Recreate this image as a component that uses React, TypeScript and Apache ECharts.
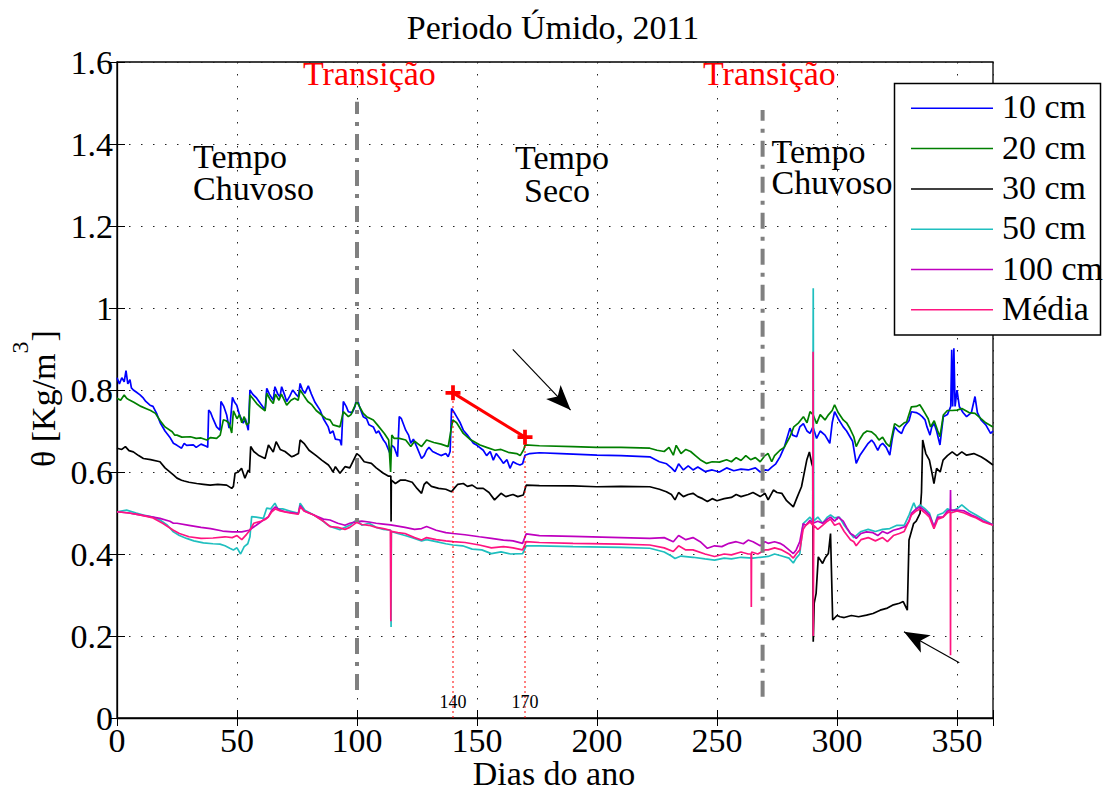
import React, { useEffect, useRef } from "react";
import * as echarts from "echarts";

const FONT = "Liberation Serif, Times New Roman, serif";

const legendNames = ["10 cm", "20 cm", "30 cm", "50 cm", "100 cm", "Média"];
const seriesColors = ["#0000ff", "#007f00", "#000000", "#1fbfbf", "#bf00bf", "#ff1480"];
const xTicks = [0, 50, 100, 150, 200, 250, 300, 350];
const yTicks = [0, 0.2, 0.4, 0.6, 0.8, 1, 1.2, 1.4, 1.6];
const yTickLabels = ["0", "0.2", "0.4", "0.6", "0.8", "1", "1.2", "1.4", "1.6"];

const s10: number[][] = [
  [0,0.83],[1,0.815],[2,0.83],[3,0.82],[3.75,0.847],[4.5,0.815],[5.4,0.825],[6,0.805],[6.8,0.8],[8,0.795],[9.6,0.788],[11,0.78],[12,0.772],[13.75,0.763],[15,0.76],[16.5,0.743],[18,0.72],[20,0.7],[22,0.685],[23.5,0.67],[25,0.665],[26.9,0.658],[28,0.67],[29,0.665],[31.8,0.666],[33,0.66],[35,0.668],[37.4,0.662],[37.8,0.66],[38.2,0.751],[39,0.745],[40,0.73],[41.5,0.71],[42.9,0.702],[43.3,0.772],[44.5,0.76],[45.7,0.739],[46.7,0.707],[47.2,0.72],[48.1,0.782],[49,0.77],[49.9,0.763],[51,0.74],[52.6,0.719],[53.5,0.73],[54.7,0.702],[55.4,0.8],[56.5,0.79],[58.2,0.78],[60,0.765],[61.7,0.751],[62.4,0.804],[63.5,0.79],[65.1,0.775],[65.8,0.808],[67,0.79],[67.9,0.783],[68.6,0.808],[70,0.785],[70.7,0.772],[72,0.785],[73.2,0.8],[74.5,0.79],[75.6,0.783],[76.3,0.816],[77.3,0.8],[78.3,0.792],[79.7,0.81],[81,0.79],[82.5,0.77],[84.6,0.751],[86,0.73],[88,0.71],[88.8,0.694],[90,0.7],[91,0.68],[92.9,0.678],[93.5,0.665],
  [94.3,0.772],[95.5,0.76],[96.4,0.747],[98,0.745],[99.2,0.76],[99.9,0.784],[101,0.76],[102.6,0.735],[104,0.73],[105,0.715],[106.8,0.71],[108,0.695],[109,0.7],[111,0.678],[112,0.67],[113.75,0.645],[114.5,0.665],[115.5,0.66],[116.9,0.637],[117.6,0.735],[118.5,0.73],[120.3,0.702],[121.5,0.69],[122.4,0.67],[123.5,0.68],[125,0.66],[126.9,0.633],[128,0.64],[129,0.653],[130,0.66],[131.5,0.65],[133.2,0.645],[135,0.64],[137,0.645],[138,0.637],[138.8,0.65],[139.4,0.755],[140.5,0.745],[141.5,0.735],[143,0.72],[144.3,0.702],[146,0.69],[148.5,0.67],[150,0.665],[152.6,0.653],[154,0.64],[155.5,0.65],[156.8,0.629],[158,0.645],[160,0.63],[161,0.621],[162.5,0.63],[163.75,0.609],[165,0.625],[166.5,0.62],[167.9,0.617],[169,0.62],[170,0.641],[172,0.645],[176,0.647],
  [185,0.645],[200,0.641],[210,0.64],[222,0.637],[226,0.625],[229,0.62],[231,0.61],[232.5,0.601],[234,0.62],[236,0.605],[238,0.615],[240,0.605],[242,0.612],[245,0.601],[248,0.605],[251,0.6],[254,0.61],[257,0.603],[260,0.607],[263,0.605],[266,0.61],[268,0.6],[270,0.605],[271.3,0.604],[272.8,0.612],[274.5,0.62],[276.25,0.637],[278,0.66],[280.4,0.707],[281.5,0.69],[283.2,0.686],[284.5,0.71],[286,0.718],[287.5,0.7],[288.75,0.694],[290,0.71],[291.5,0.682],[293,0.7],[295,0.69],[297,0.67],[298,0.72],[299,0.747],[300.5,0.73],[302.6,0.71],[304,0.7],[305.4,0.686],[306.5,0.675],[308,0.621],[309.5,0.64],[311,0.653],[313,0.67],[314.4,0.678],[315.5,0.67],[317,0.653],[318,0.665],[319,0.67],[320.5,0.66],[322,0.641],[323,0.68],[324,0.71],[325.5,0.7],[326.9,0.694],[328,0.71],[329,0.718],[330,0.725],[331,0.747],[333,0.745],[334.5,0.74],[335.5,0.735],[336.7,0.727],[337.5,0.71],[338.75,0.69],[339.5,0.71],[340.5,0.718],[341.5,0.7],[342.9,0.666],[344.3,0.735],[346,0.74],[347.4,0.76],[347.8,0.898],[348.2,0.76],[348.7,0.902],[349.2,0.76],[350,0.8],[351,0.759],[352.5,0.745],[354,0.735],[356,0.745],[357.5,0.784],[358.5,0.745],[360,0.727],[362,0.715],[364,0.694],[365,0.7]
];

const s20: number[][] = [
  [0,0.78],[1.5,0.775],[3,0.788],[4,0.78],[5,0.776],[7,0.77],[10,0.76],[12,0.755],[14,0.75],[16,0.743],[18,0.725],[20,0.71],[23,0.698],[24,0.69],[25,0.69],[27,0.685],[30.6,0.686],[33,0.682],[35,0.683],[37.4,0.678],[39,0.684],[41.5,0.682],[43,0.69],[44.3,0.727],[45.5,0.725],[46.7,0.719],[47.8,0.695],[48.5,0.749],[50,0.73],[51,0.74],[52,0.72],[53,0.735],[54,0.715],[55,0.72],[55.4,0.788],[56.5,0.78],[58.2,0.767],[60,0.757],[61.7,0.749],[62.4,0.792],[64,0.775],[65.1,0.767],[66,0.79],[67.5,0.775],[68.5,0.79],[70.7,0.763],[72.5,0.775],[74,0.78],[75.5,0.775],[76.3,0.8],[78,0.785],[79.5,0.772],[81,0.765],[83,0.75],[85.3,0.739],[87,0.73],[88.75,0.727],[90,0.715],[92.9,0.71],[94.3,0.747],[96.4,0.735],[97.5,0.74],[99.9,0.772],[101,0.76],[102.6,0.743],[104,0.735],[106.8,0.727],[108.5,0.715],[111.4,0.694],[113.2,0.678],[114,0.6],[114.5,0.69],[115.5,0.682],[117.6,0.682],[120.3,0.678],[122.4,0.662],[124,0.675],[126.9,0.662],[129,0.678],[132,0.672],[135,0.668],[138,0.662],[139.9,0.727],[141.5,0.72],[144.3,0.694],[147,0.68],[151.25,0.666],[154,0.66],[157.5,0.653],[160,0.655],[163,0.648],[166.5,0.645],[168,0.64],[169.5,0.655],[170,0.666],
  [176,0.664],[190,0.662],[199.9,0.66],[210,0.66],[222,0.658],[225,0.653],[228,0.65],[230,0.66],[231.8,0.641],[233,0.665],[235,0.645],[237,0.655],[239,0.65],[241,0.64],[243,0.63],[245.7,0.621],[248,0.625],[251,0.624],[254,0.63],[256,0.625],[258,0.635],[260,0.628],[262,0.64],[264,0.63],[266,0.635],[268,0.625],[270,0.64],[271.3,0.645],[272.8,0.625],[274,0.64],[276.25,0.653],[278,0.66],[280.4,0.686],[282,0.71],[284,0.72],[286,0.735],[287.5,0.72],[288.75,0.747],[290,0.74],[291.5,0.718],[293,0.74],[295,0.727],[296.5,0.74],[298,0.75],[299,0.764],[300.5,0.745],[302.6,0.727],[304,0.72],[305.4,0.706],[307,0.686],[308,0.662],[309.5,0.68],[311,0.694],[312.5,0.7],[314.4,0.698],[316,0.69],[317.5,0.678],[319,0.685],[320.5,0.67],[322,0.662],[323,0.69],[324,0.718],[326,0.71],[328,0.72],[329,0.722],[331,0.759],[333,0.76],[334.5,0.764],[335.5,0.755],[336.7,0.743],[338,0.73],[339,0.71],[340.5,0.725],[342,0.7],[342.9,0.686],[344.3,0.739],[346,0.75],[348,0.75],[350,0.751],[352,0.755],[355,0.745],[357.5,0.743],[360,0.73],[362,0.72],[365,0.71]
];

const s30: number[][] = [
  [0,0.658],[2,0.655],[3.5,0.662],[5,0.652],[6.8,0.649],[9,0.64],[11,0.633],[14,0.63],[17.9,0.625],[20,0.61],[23.5,0.593],[25,0.585],[26.9,0.58],[28,0.578],[30,0.575],[33.2,0.572],[36,0.57],[38.8,0.568],[42,0.57],[45.7,0.568],[47.8,0.56],[48.5,0.565],[49.2,0.597],[50.5,0.6],[51.9,0.609],[53.3,0.585],[54.7,0.605],[55.2,0.6],[55.7,0.662],[57,0.65],[58.9,0.641],[61.7,0.633],[63.1,0.666],[65.1,0.649],[66.3,0.674],[68,0.655],[70,0.65],[72.8,0.637],[74,0.64],[75.6,0.645],[76.3,0.678],[77.9,0.67],[80,0.653],[83,0.64],[85.3,0.629],[88.1,0.617],[89,0.61],[90,0.6],[91,0.613],[92.9,0.597],[95,0.613],[97,0.61],[99.9,0.645],[101,0.64],[103,0.625],[106,0.621],[108,0.61],[111,0.597],[113,0.59],[114.1,0.59],[114.2,0.479],[114.3,0.58],[116,0.572],[118,0.58],[120.3,0.58],[123,0.575],[125,0.56],[126.9,0.548],[128,0.57],[129,0.576],[131,0.565],[134,0.56],[137,0.558],[139.4,0.552],[140.5,0.56],[142,0.57],[144.3,0.572],[146,0.565],[148,0.568],[150,0.56],[152.6,0.56],[155,0.55],[157.3,0.532],[160,0.548],[162,0.54],[165,0.545],[167,0.54],[169.3,0.544],[170.5,0.568],
  [176,0.567],[190,0.566],[199.9,0.564],[210,0.565],[222,0.564],[226,0.558],[228.9,0.552],[231,0.545],[232.5,0.532],[234,0.55],[236,0.54],[238,0.545],[240,0.548],[242,0.54],[244,0.535],[246,0.528],[248,0.535],[250,0.53],[253,0.535],[256,0.538],[258,0.545],[260,0.54],[263,0.545],[265,0.55],[268,0.54],[270,0.548],[271.3,0.532],[273.5,0.556],[275,0.55],[277,0.548],[279,0.53],[281.8,0.515],[283.5,0.54],[285.2,0.564],[287.4,0.629],[288.5,0.649],[289.5,0.62],[289.9,0.613],[290.1,0.186],[290.5,0.28],[291.3,0.304],[292.2,0.393],[294,0.377],[295,0.39],[296.4,0.401],[297.3,0.45],[298.2,0.239],[300,0.25],[301.3,0.247],[303,0.245],[306,0.25],[309,0.247],[312.3,0.251],[315,0.255],[318,0.263],[321,0.268],[323.5,0.276],[326,0.28],[327.6,0.284],[329.3,0.263],[330,0.434],[331.9,0.474],[333,0.48],[334.6,0.499],[335.2,0.55],[335.7,0.678],[337,0.645],[338.5,0.629],[339.5,0.6],[340.4,0.572],[341.5,0.609],[343,0.6],[344.2,0.629],[346,0.64],[348,0.649],[350,0.64],[352,0.649],[354,0.641],[357,0.645],[360,0.637],[362,0.63],[365,0.617]
];

const s50: number[][] = [
  [0,0.503],[4,0.507],[8,0.5],[11,0.495],[15,0.49],[17.9,0.483],[21,0.47],[23.5,0.454],[26,0.445],[29,0.438],[32,0.432],[36,0.427],[40,0.425],[42.9,0.424],[45,0.42],[47,0.414],[48.5,0.41],[50,0.415],[51.5,0.4],[53,0.418],[54.5,0.425],[55.4,0.442],[56.1,0.491],[58,0.49],[61,0.487],[62.4,0.512],[64,0.51],[65.8,0.524],[67,0.51],[69,0.51],[72,0.505],[75.6,0.499],[76.3,0.524],[78.3,0.507],[82,0.495],[85.3,0.483],[88,0.47],[90,0.465],[92.9,0.459],[95,0.465],[97,0.47],[99.9,0.484],[102,0.47],[105,0.475],[108,0.465],[111,0.46],[114.1,0.458],[114.2,0.222],[114.3,0.455],[117,0.45],[120,0.445],[123,0.44],[126.9,0.432],[129,0.435],[133,0.43],[137,0.425],[140,0.422],[144,0.42],[148,0.412],[152,0.41],[156,0.401],[160,0.405],[164,0.4],[169,0.401],[170.5,0.42],
  [176,0.42],[190,0.418],[210,0.416],[222,0.414],[228,0.405],[231,0.395],[232.5,0.389],[235,0.395],[240,0.392],[245,0.388],[249,0.385],[253,0.39],[256,0.388],[260,0.392],[265,0.39],[268,0.392],[271.3,0.394],[274,0.4],[277,0.395],[280,0.39],[281.8,0.378],[283,0.39],[284.5,0.4],[285.9,0.474],[287,0.48],[288.75,0.49],[289.9,0.48],[290.1,1.048],[290.3,0.48],[292,0.49],[294,0.475],[296,0.49],[297.3,0.495],[299,0.488],[301,0.49],[303,0.47],[305.6,0.45],[307,0.44],[308,0.445],[310,0.455],[313,0.46],[316,0.455],[319,0.46],[322,0.462],[325,0.47],[328,0.47],[330,0.495],[331,0.51],[332,0.525],[333,0.51],[334.6,0.52],[336.7,0.51],[338.5,0.5],[340.4,0.465],[342,0.495],[344.2,0.5],[346,0.51],[348,0.505],[350,0.51],[352,0.52],[355,0.505],[358,0.495],[361,0.485],[365,0.471]
];

const s100: number[][] = [
  [0,0.503],[5,0.5],[10,0.495],[15,0.49],[17.9,0.487],[22,0.48],[23.5,0.475],[25,0.475],[30,0.47],[35,0.465],[39,0.462],[44,0.456],[48,0.454],[52,0.454],[55,0.458],[58,0.47],[61,0.483],[63,0.49],[64.5,0.507],[66,0.515],[68,0.507],[70,0.503],[74,0.5],[75.5,0.498],[76.3,0.518],[78,0.505],[82,0.495],[86,0.485],[88.75,0.483],[92,0.475],[95,0.47],[97,0.475],[99.9,0.479],[102,0.48],[105,0.478],[108,0.475],[111,0.473],[114,0.471],[117,0.468],[120,0.465],[124,0.46],[126.9,0.462],[129,0.467],[133,0.458],[137,0.452],[140,0.45],[145,0.447],[151,0.442],[156,0.438],[161,0.434],[165,0.432],[169,0.426],[170.5,0.449],
  [176,0.445],[190,0.443],[210,0.44],[222,0.438],[228,0.44],[231.8,0.43],[234,0.445],[237,0.435],[240,0.44],[243,0.43],[246,0.414],[249,0.42],[252,0.418],[255,0.426],[258,0.43],[261,0.425],[263,0.434],[265,0.43],[268,0.42],[270,0.43],[271.3,0.426],[274,0.43],[276.25,0.426],[278,0.42],[280,0.41],[281.8,0.401],[283,0.41],[284.5,0.43],[285.9,0.474],[287,0.47],[288.75,0.482],[290,0.475],[292,0.48],[294,0.475],[296,0.485],[297.3,0.49],[299,0.48],[300.5,0.49],[302.6,0.48],[304,0.465],[305.6,0.45],[307,0.445],[308,0.438],[310,0.45],[312.3,0.454],[315,0.452],[317,0.445],[319,0.455],[321,0.45],[323.5,0.458],[326,0.462],[328.5,0.467],[330,0.48],[331,0.499],[333,0.51],[334.6,0.515],[336.7,0.505],[338.5,0.495],[340.4,0.467],[342,0.49],[344.2,0.49],[346,0.505],[347.2,0.507],[347.3,0.556],[347.4,0.507],[350,0.507],[353,0.505],[356,0.495],[358,0.49],[361,0.48],[365,0.471]
];

const sMedia: number[][] = [
  [0,0.503],[5,0.5],[10,0.495],[15,0.488],[19,0.475],[23.5,0.458],[26,0.45],[30,0.442],[35,0.438],[40,0.439],[45,0.442],[48,0.44],[50,0.445],[52,0.435],[54,0.448],[55.4,0.458],[57,0.475],[60,0.48],[62,0.485],[63,0.49],[64.5,0.503],[66,0.51],[68,0.505],[72,0.5],[75.5,0.497],[76.3,0.515],[78,0.505],[82,0.495],[86,0.48],[88.75,0.467],[92,0.465],[95,0.46],[97,0.465],[99.9,0.477],[102,0.472],[105,0.47],[108,0.465],[111,0.462],[113.9,0.458],[114.1,0.236],[114.3,0.455],[117,0.452],[120,0.45],[124,0.44],[126.9,0.434],[129,0.44],[133,0.435],[137,0.432],[140,0.43],[145,0.428],[151,0.422],[156,0.415],[161,0.418],[165,0.415],[169,0.41],[170.5,0.43],
  [176,0.428],[190,0.426],[210,0.424],[222,0.422],[228,0.415],[231.8,0.406],[234,0.42],[237,0.41],[240,0.41],[245,0.4],[249,0.394],[253,0.4],[256,0.398],[260,0.405],[263,0.4],[264.2,0.4],[264.3,0.271],[264.4,0.405],[267,0.4],[270,0.41],[271.3,0.41],[274,0.415],[277,0.41],[280,0.4],[281.8,0.39],[283,0.4],[284.5,0.41],[285.9,0.46],[287,0.47],[288.75,0.478],[289.9,0.47],[290.05,0.893],[290.1,0.2],[290.3,0.47],[292,0.46],[294,0.47],[296,0.48],[297.3,0.485],[299,0.47],[301,0.475],[303,0.455],[305.6,0.435],[307,0.43],[308,0.42],[310,0.435],[313,0.44],[316,0.432],[319,0.44],[321,0.43],[323.5,0.445],[326,0.45],[328,0.455],[330,0.48],[331,0.495],[333,0.505],[334.6,0.51],[336.7,0.5],[338.5,0.49],[340.4,0.462],[342,0.485],[344.2,0.49],[346,0.5],[347.2,0.505],[347.3,0.153],[347.4,0.5],[350,0.505],[353,0.5],[356,0.492],[358,0.488],[361,0.478],[365,0.47]
];

const allSeries = [s10, s20, s30, s50, s100, sMedia];

// annotation marks (data coordinates)
const transitionLines: number[][][] = [
  [[100, 0.068], [100, 1.503]],
  [[269, 0.052], [269, 1.483]],
];
const dottedLines: number[][][] = [
  [[140, 0], [140, 0.793]],
  [[170, 0], [170, 0.685]],
];
const slopeLine: number[][] = [[140, 0.793], [170, 0.685]];
const arrowLines: number[][][] = [
  [[164.9, 0.899], [189.0, 0.751]],
  [[350.96, 0.135], [327.9, 0.2105]],
];

const PLUS = "path://M3,0 L5,0 L5,3 L8,3 L8,5 L5,5 L5,8 L3,8 L3,5 L0,5 L0,3 L3,3 Z";

function measure(text: string, size: number) {
  const c = document.createElement("canvas").getContext("2d");
  if (!c) return text.length * size * 0.5;
  c.font = `${size}px ${FONT}`;
  return c.measureText(text).width;
}

export default function App() {
  const ref = useRef<HTMLDivElement>(null);
  useEffect(() => {
    document.body.style.margin = "0";
    if (!ref.current) return;
    const chart = echarts.init(ref.current, undefined, { renderer: "svg" });
    const split = { show: true, lineStyle: { color: "#222", type: [1.5, 10.5], width: 1 } };
    const tick = { show: true, inside: true, length: 8, lineStyle: { color: "#000", width: 1 } };
    const series: any[] = [];
    allSeries.forEach((d, i) => {
      series.push({
        type: "line", name: legendNames[i], data: d, symbol: "none", showSymbol: false,
        color: seriesColors[i], lineStyle: { width: 1.7, color: seriesColors[i] }, z: 2, silent: true,
      });
    });
    transitionLines.forEach((d) => {
      series.push({
        type: "line", data: d, symbol: "none", silent: true, z: 3,
        lineStyle: { color: "#808080", width: 4, type: [16, 8, 4, 8] },
      });
    });
    dottedLines.forEach((d) => {
      series.push({
        type: "line", data: d, symbol: "none", silent: true, z: 3,
        lineStyle: { color: "#ff0000", width: 1, type: [2, 3] },
      });
    });
    series.push({
      type: "line", data: slopeLine, symbol: PLUS, symbolSize: 15, showSymbol: true, silent: true, z: 3,
      itemStyle: { color: "#ff0000" }, lineStyle: { color: "#ff0000", width: 3 },
    });
    series.push({
      type: "lines", coordinateSystem: "cartesian2d", silent: true, z: 3,
      symbol: ["none", "arrow"], symbolSize: [10, [15, 25]],
      lineStyle: { color: "#000", width: 1.2, opacity: 1, curveness: 0 },
      data: arrowLines.map((c) => ({ coords: c })),
    });

    chart.setOption({
      animation: false,
      backgroundColor: "#fff",
      grid: { left: 117, top: 62, width: 876, height: 656, show: true, borderColor: "#000", borderWidth: 1.3, backgroundColor: "transparent" },
      xAxis: [
        { type: "value", min: 0, max: 365, interval: 50, axisLine: { show: true, onZero: false, lineStyle: { color: "#000", width: 1.3 } }, axisTick: tick, axisLabel: { show: false }, splitLine: split },
        { type: "value", position: "top", min: 0, max: 365, interval: 50, axisLine: { show: false }, axisTick: tick, axisLabel: { show: false }, splitLine: { show: false } },
      ],
      yAxis: [
        { type: "value", min: 0, max: 1.6, interval: 0.2, axisLine: { show: true, onZero: false, lineStyle: { color: "#000", width: 1.3 } }, axisTick: tick, axisLabel: { show: false }, splitLine: split },
        { type: "value", position: "right", min: 0, max: 1.6, interval: 0.2, axisLine: { show: false }, axisTick: tick, axisLabel: { show: false }, splitLine: { show: false } },
      ],
      series,
    });

    const txt = (text: string, x: number, y: number, color = "#000", size = 34, align = "left", extra: any = {}) => ({
      type: "text", x, y, z: 6, silent: true, ...extra,
      style: { text, fontSize: size, fontFamily: FONT, fill: color, align, verticalAlign: "middle" },
    });

    const g: any[] = [];
    // tick labels from the axis scale
    xTicks.forEach((v) => {
      const px = chart.convertToPixel({ xAxisIndex: 0 }, v) as number;
      g.push(txt(String(v), px, 740.5, "#000", 34, "center"));
    });
    yTicks.forEach((v, i) => {
      const py = chart.convertToPixel({ yAxisIndex: 0 }, v) as number;
      g.push(txt(yTickLabels[i], 113, py, "#000", 34, "right"));
    });
    // axis titles
    g.push(txt("Dias do ano", 554, 773.5, "#000", 34, "center"));
    const yMain = "θ [Kg/m";
    const w1 = measure(yMain, 34);
    const w2 = measure("3", 24);
    const yStart = 467;
    g.push(txt(yMain, 43.5, yStart, "#000", 34, "left", { rotation: Math.PI / 2 }));
    g.push(txt("3", 20, yStart - w1, "#000", 24, "left", { rotation: Math.PI / 2 }));
    g.push(txt("]", 43.5, yStart - w1 - w2, "#000", 34, "left", { rotation: Math.PI / 2 }));
    // title and annotations
    g.push(txt("Periodo Úmido, 2011", 553, 27.5, "#000", 34, "center"));
    g.push(txt("Transição", 303, 73.5, "#ff0000"));
    g.push(txt("Transição", 703, 73.5, "#ff0000"));
    g.push(txt("Tempo", 193, 156));
    g.push(txt("Chuvoso", 193, 188));
    g.push(txt("Tempo", 515, 157.5));
    g.push(txt("Seco", 524, 190));
    g.push(txt("Tempo", 771.6, 151));
    g.push(txt("Chuvoso", 771.6, 182.5));
    g.push(txt("140", chart.convertToPixel({ xAxisIndex: 0 }, 140) as number, 702, "#000", 18, "center"));
    g.push(txt("170", chart.convertToPixel({ xAxisIndex: 0 }, 170) as number, 702, "#000", 18, "center"));
    // legend box
    g.push({ type: "rect", z: 4, silent: true, shape: { x: 894.5, y: 83.5, width: 206, height: 251.5 }, style: { fill: "#fff", stroke: "#000", lineWidth: 1.5 } });
    legendNames.forEach((name, i) => {
      const y = 108.3 + i * 40.3;
      g.push({ type: "line", z: 5, silent: true, shape: { x1: 911, y1: y, x2: 993, y2: y }, style: { stroke: seriesColors[i], lineWidth: 1.5 } });
      g.push(txt(name, 1002, y - 1.5));
    });

    chart.setOption({ graphic: g });
    return () => chart.dispose();
  }, []);
  return <div ref={ref} style={{ width: 1109, height: 793 }} />;
}
